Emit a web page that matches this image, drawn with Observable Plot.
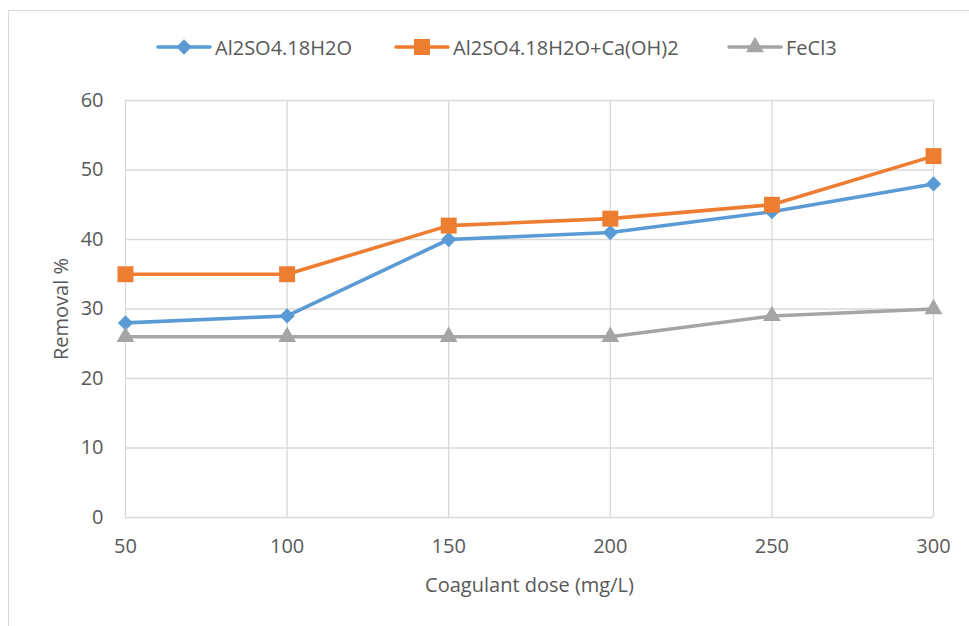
<!DOCTYPE html>
<html>
<head>
<meta charset="utf-8">
<script src="https://cdn.jsdelivr.net/npm/d3@7"></script>
<script src="https://cdn.jsdelivr.net/npm/@observablehq/plot@0.6"></script>
<style>
  body { margin: 0; background: #fff; }
  #wrap { position: relative; width: 969px; height: 626px; overflow: hidden; font-family: "Open Sans", sans-serif; }
  #frame { position: absolute; left: 8px; top: 10px; width: 1000px; height: 700px; border: 1px solid #D9D9D9; box-sizing: border-box; }
  #legend { position: absolute; top: 33px; left: 0; width: 969px; height: 28px; }
  .item { position: absolute; top: 0; display: flex; align-items: center; height: 28px; color: #595959; font-size: 20px; }
  .item svg { margin-right: 2px; }
  #chart { position: absolute; left: 0; top: 0; }
</style>
</head>
<body>
<div id="wrap">
  <div id="frame"></div>
  <div id="chart"></div>
  <div id="legend"></div>
</div>
<script>
const doses = [50, 100, 150, 200, 250, 300];
const seriesNames = ["Al2SO4.18H2O", "Al2SO4.18H2O+Ca(OH)2", "FeCl3"];
const alum = [28, 29, 40, 41, 44, 48];
const alumLime = [35, 35, 42, 43, 45, 52];
const ferric = [26, 26, 26, 26, 29, 30];
const xTicks = [50, 100, 150, 200, 250, 300];
const yTicks = [0, 10, 20, 30, 40, 50, 60];
const colors = ["#5B9BD5", "#ED7D31", "#A5A5A5"];
const symbols = ["diamond2", "square", "triangle"];
const symbolR = [6.9, 9, 6.6];

const values = [alum, alumLime, ferric];
const data = [];
seriesNames.forEach((s, i) => doses.forEach((d, j) => data.push({series: s, dose: d, value: values[i][j]})));

const marks = [
  Plot.gridX(xTicks, {stroke: "#D9D9D9", strokeOpacity: 1, strokeWidth: 1.3}),
  Plot.gridY(yTicks, {stroke: "#D9D9D9", strokeOpacity: 1, strokeWidth: 1.3}),
  Plot.axisX(xTicks, {tickSize: 0, tickPadding: 21, fill: "#595959", fontSize: 20,
    label: "Coagulant dose (mg/L)", labelAnchor: "center", labelArrow: "none", labelOffset: 74}),
  Plot.axisY(yTicks, {tickSize: 0, tickPadding: 22, fill: "#595959", fontSize: 20,
    label: "Removal %", labelAnchor: "center", labelArrow: "none", labelOffset: 72})
];
seriesNames.forEach((s, i) => {
  const sub = data.filter(d => d.series === s);
  marks.push(Plot.line(sub, {x: "dose", y: "value", stroke: colors[i], strokeWidth: 3.6}));
});
seriesNames.forEach((s, i) => {
  const sub = data.filter(d => d.series === s);
  marks.push(Plot.dot(sub, {x: "dose", y: "value", symbol: () => symbols[i], r: symbolR[i], fill: colors[i], stroke: "none"}));
});

const chart = Plot.plot({
  width: 969, height: 626,
  marginTop: 100, marginLeft: 125, marginRight: 36, marginBottom: 109,
  x: {type: "linear", domain: [50, 300]},
  y: {domain: [0, 60]},
  symbol: {type: "identity"},
  style: {fontFamily: "'Open Sans', sans-serif", fontSize: "20px", color: "#595959", background: "transparent"},
  marks
});
document.getElementById("chart").appendChild(chart);

// legend
const legend = d3.select("#legend");
const lefts = [155, 393, 726];
seriesNames.forEach((s, i) => {
  const item = legend.append("div").attr("class", "item").style("left", lefts[i] + "px");
  const svg = item.append("svg").attr("width", 58).attr("height", 28);
  svg.append("line").attr("x1", 3).attr("x2", 55).attr("y1", 14).attr("y2", 14)
    .attr("stroke", colors[i]).attr("stroke-width", 3.6).attr("stroke-linecap", "round");
  const sym = [d3.symbolDiamond2, d3.symbolSquare, d3.symbolTriangle][i];
  svg.append("path").attr("transform", "translate(29,14)")
    .attr("d", d3.symbol(sym, Math.PI * symbolR[i] * symbolR[i])())
    .attr("fill", colors[i]);
  item.append("span").text(s);
});
</script>
</body>
</html>
